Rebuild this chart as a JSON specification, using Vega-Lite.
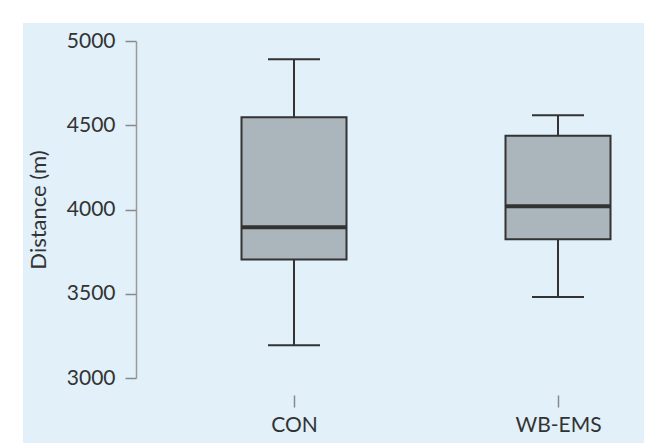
{
  "$schema": "https://vega.github.io/schema/vega-lite/v6.json",
  "width": 621,
  "height": 420,
  "autosize": "none",
  "padding": {"left": 23, "top": 23, "right": 10, "bottom": 0},
  "background": "#ffffff",
  "config": {"view": {"fill": "#e1f0f9", "stroke": null}, "font": "Lato"},
  "data": {"values": [
    {"group": "CON", "min": 3194, "q1": 3703, "median": 3895, "q3": 4547, "max": 4891},
    {"group": "WB-EMS", "min": 3481, "q1": 3824, "median": 4020, "q3": 4437, "max": 4560}
  ]},
  "encoding": {
    "x": {
      "field": "group",
      "type": "nominal",
      "scale": {"type": "point", "range": [271, 535], "padding": 0},
      "axis": {
        "title": null,
        "orient": "bottom",
        "offset": -48,
        "domain": false,
        "grid": false,
        "tickColor": "#888888",
        "tickSize": 12,
        "tickWidth": 1.5,
        "labelPadding": 7,
        "labelFontSize": 21,
        "labelColor": "#333333",
        "labelAngle": 0
      }
    }
  },
  "layer": [
    {
      "mark": {"type": "rule", "color": "#333333", "strokeWidth": 2},
      "encoding": {
        "y": {
          "field": "min",
          "type": "quantitative",
          "scale": {"domain": [3000, 5000], "range": [355, 18], "nice": false, "zero": false},
          "axis": {
            "title": "Distance (m)",
            "values": [3000, 3500, 4000, 4500, 5000],
            "format": "d",
            "offset": -113,
            "grid": false,
            "domainColor": "#999999",
            "domainWidth": 1.5,
            "tickColor": "#888888",
            "tickSize": 11,
            "tickWidth": 1.5,
            "labelPadding": 10,
            "labelFontSize": 21,
            "labelColor": "#333333",
            "titleFontSize": 22,
            "titleFontWeight": "normal",
            "titleColor": "#333333",
            "titlePadding": 16
          }
        },
        "y2": {"field": "max"}
      }
    },
    {
      "mark": {"type": "bar", "width": 105, "fill": "#abb5bc", "stroke": "#333333", "strokeWidth": 2, "opacity": 1},
      "encoding": {
        "y": {"field": "q1", "type": "quantitative"},
        "y2": {"field": "q3"}
      }
    },
    {
      "mark": {"type": "tick", "size": 105, "thickness": 4, "color": "#333333", "opacity": 1},
      "encoding": {"y": {"field": "median", "type": "quantitative"}}
    },
    {
      "mark": {"type": "tick", "size": 52, "thickness": 2, "color": "#333333", "opacity": 1},
      "encoding": {"y": {"field": "min", "type": "quantitative"}}
    },
    {
      "mark": {"type": "tick", "size": 52, "thickness": 2, "color": "#333333", "opacity": 1},
      "encoding": {"y": {"field": "max", "type": "quantitative"}}
    }
  ]
}
